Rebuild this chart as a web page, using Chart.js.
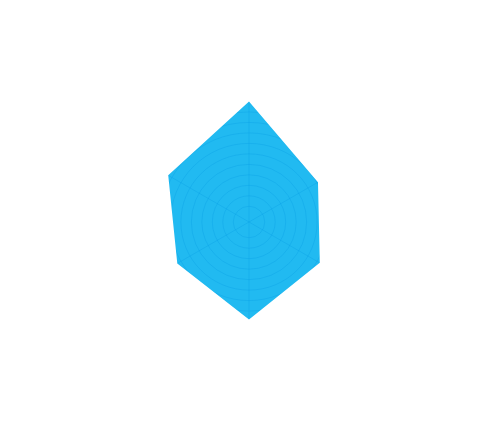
<!doctype html>
<html lang="en">
  <head>
    <meta charset="utf-8">
    <script src="https://cdn.jsdelivr.net/npm/chart.js@4.4.1/dist/chart.umd.min.js"></script>
    <title>Radar</title>
    <style>
      * {
        margin: 0;
        padding: 0;
      }
      body {
        background: #fff;
      }
      .chartBox {
        width: 504px;
        height: 446px;
      }
    </style>
  </head>
  <body>
    <div class="chartBox">
      <canvas id="myChart"></canvas>
    </div>
    <script>
    // axes go clockwise starting from the top
    const categories = ['A', 'B', 'C', 'D', 'E', 'F'];
    const values = [11.0, 7.1, 7.3, 8.8, 7.4, 8.4];
    const scaleMin = -0.5;
    const scaleMax = 12;
    const scaleStep = 1;

    const gridColor = 'rgba(0,155,228,0.3)';

    // the fill keeps the grid under it and drops the grid everywhere else
    const gridUnderFill = {
      id: 'gridUnderFill',
      beforeDatasetsDraw(chart) {
        chart.ctx.save();
        chart.ctx.globalCompositeOperation = 'destination-atop';
      },
      afterDatasetsDraw(chart) {
        chart.ctx.restore();
      }
    };

    new Chart(document.getElementById('myChart'), {
      type: 'radar',
      data: {
        labels: categories,
        datasets: [{
          data: values,
          backgroundColor: 'rgb(33,186,241)',
          borderWidth: 0,
          pointRadius: 0,
          fill: 'start'
        }]
      },
      options: {
        responsive: true,
        maintainAspectRatio: false,
        animation: false,
        layout: {
          padding: { left: 118, right: 123, top: 91, bottom: 93 }
        },
        plugins: {
          legend: { display: false },
          tooltip: { enabled: false }
        },
        scales: {
          r: {
            min: scaleMin,
            max: scaleMax,
            ticks: { display: false, stepSize: scaleStep },
            pointLabels: { display: false },
            grid: {
              circular: true,
              // outer ring sits on the chart area edge, outside the fill's clip
              color: (ctx) => ctx.tick && ctx.tick.value >= scaleMax ? 'rgba(0,0,0,0)' : gridColor
            },
            angleLines: { color: gridColor }
          }
        }
      },
      plugins: [gridUnderFill]
    });
    </script>
  </body>
</html>
